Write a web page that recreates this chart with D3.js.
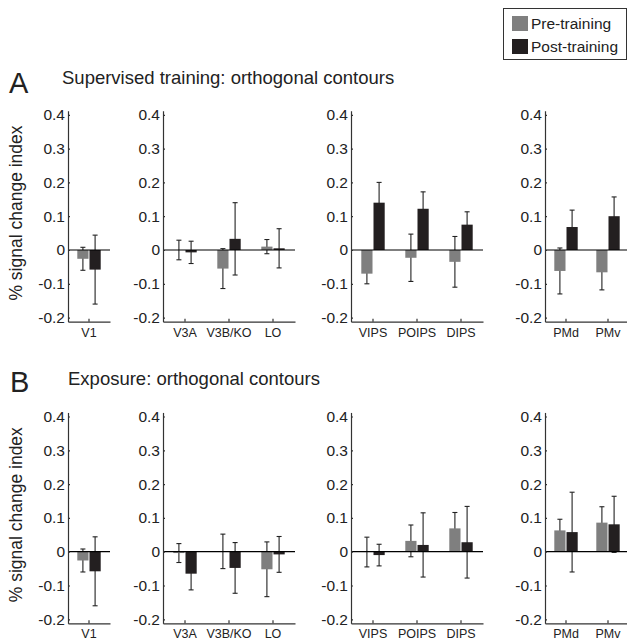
<!DOCTYPE html>
<html>
<head>
<meta charset="utf-8">
<script src="https://cdn.jsdelivr.net/npm/d3@7"></script>
<style>
    body { margin: 0; background: #fff; }
    svg text { font-family: "Liberation Sans", Arial, Helvetica, sans-serif; fill: #222; }
</style>
</head>
<body>
<svg id="chart" width="627" height="644"></svg>
<script>
// regions, split into the four sub-panels
var groups = [["V1"], ["V3A", "V3B/KO", "LO"], ["VIPS", "POIPS", "DIPS"], ["PMd", "PMv"]];
var yTicks = [-0.2, -0.1, 0, 0.1, 0.2, 0.3, 0.4];

// A: supervised training (order: V1, V3A, V3B/KO, LO, VIPS, POIPS, DIPS, PMd, PMv)
var supPre     = [-0.026, 0.0, -0.055, 0.01, -0.07, -0.023, -0.035, -0.062, -0.066];
var supPreErr  = [0.034, 0.029, 0.059, 0.021, 0.03, 0.07, 0.075, 0.068, 0.052];
var supPost    = [-0.058, -0.007, 0.033, 0.005, 0.14, 0.122, 0.075, 0.068, 0.10];
var supPostErr = [0.102, 0.033, 0.107, 0.058, 0.06, 0.05, 0.038, 0.05, 0.057];

// B: exposure
var expPre     = [-0.026, -0.004, 0.001, -0.052, -0.001, 0.032, 0.069, 0.063, 0.086];
var expPreErr  = [0.034, 0.028, 0.051, 0.081, 0.044, 0.047, 0.047, 0.033, 0.047];
var expPost    = [-0.058, -0.065, -0.048, -0.008, -0.01, 0.02, 0.028, 0.058, 0.081];
var expPostErr = [0.102, 0.048, 0.075, 0.053, 0.032, 0.095, 0.106, 0.118, 0.083];

var PRE_COLOR = "#7f7f7f";
var POST_COLOR = "#231f20";
var FONT = '"Liberation Sans", Arial, Helvetica, sans-serif';

var panelX = [[68, 110], [163, 295], [351, 483], [545, 629]];
var pxPerUnit = 338;
var barW = 11.2;

var svg = d3.select("#chart");

function fmt(d) {
    return d === 0 ? "0" : d.toFixed(1);
}

function drawRow(zeroY, pre, preErr, post, postErr) {
    var y = d3.scaleLinear()
        .domain([-0.212, 0.412])
        .range([zeroY + 0.212 * pxPerUnit, zeroY - 0.412 * pxPerUnit]);

    var k = 0;
    groups.forEach(function(g, gi) {
        var x = d3.scaleBand().domain(g).range(panelX[gi]);
        var p = svg.append("g");

        var rows = g.map(function(name) {
            var r = {name: name, pre: pre[k], preErr: preErr[k], post: post[k], postErr: postErr[k]};
            k++;
            return r;
        });
        var bars = [];
        rows.forEach(function(r) {
            var c = x(r.name) + x.bandwidth() / 2;
            bars.push({cx: c - 0.5 - barW / 2, v: r.pre, e: r.preErr, color: PRE_COLOR});
            bars.push({cx: c + 0.5 + barW / 2, v: r.post, e: r.postErr, color: POST_COLOR});
        });

        // error bars first, bars are drawn over them
        var eb = p.selectAll(".err").data(bars).enter().append("g").attr("class", "err")
            .attr("stroke", "#222").attr("stroke-width", 1.1);
        eb.append("line")
            .attr("x1", function(d) { return d.cx; })
            .attr("x2", function(d) { return d.cx; })
            .attr("y1", function(d) { return y(d.v + d.e); })
            .attr("y2", function(d) { return y(d.v - d.e); });
        [1, -1].forEach(function(s) {
            eb.append("line")
                .attr("x1", function(d) { return d.cx - 2.5; })
                .attr("x2", function(d) { return d.cx + 2.5; })
                .attr("y1", function(d) { return y(d.v + s * d.e); })
                .attr("y2", function(d) { return y(d.v + s * d.e); });
        });

        p.selectAll(".bar").data(bars).enter().append("rect").attr("class", "bar")
            .attr("x", function(d) { return d.cx - barW / 2; })
            .attr("width", barW)
            .attr("y", function(d) { return y(Math.max(0, d.v)); })
            .attr("height", function(d) { return Math.abs(y(d.v) - y(0)); })
            .attr("fill", function(d) { return d.color; });

        // zero line
        p.append("line")
            .attr("x1", panelX[gi][0]).attr("x2", panelX[gi][1])
            .attr("y1", y(0)).attr("y2", y(0))
            .attr("stroke", "#000").attr("stroke-width", 1.2);

        var yAxis = p.append("g")
            .attr("transform", "translate(" + panelX[gi][0] + ",0)")
            .call(d3.axisLeft(y).tickValues(yTicks).tickFormat(fmt)
                .tickSizeInner(-2).tickSizeOuter(0).tickPadding(3));
        var xAxis = p.append("g")
            .attr("transform", "translate(0," + y(-0.212) + ")")
            .call(d3.axisBottom(x).tickSizeInner(-3).tickSizeOuter(0).tickPadding(6));

        [yAxis, xAxis].forEach(function(a) {
            a.attr("font-family", FONT);
            a.selectAll("path, line").attr("stroke", "#333").attr("stroke-width", 1.2);
            a.selectAll("text").attr("fill", "#222");
        });
        yAxis.attr("font-size", 15.5);
        xAxis.attr("font-size", 12.5);
    });

    svg.append("text")
        .attr("transform", "translate(22," + (zeroY - 37) + ") rotate(-90)")
        .attr("text-anchor", "middle")
        .attr("font-size", 17.5)
        .text("% signal change index");
}

drawRow(250, supPre, supPreErr, supPost, supPostErr);
drawRow(551.7, expPre, expPreErr, expPost, expPostErr);

// panel letters and titles
svg.append("text").attr("x", 9).attr("y", 93).attr("font-size", 29).text("A");
svg.append("text").attr("x", 62).attr("y", 84).attr("font-size", 18.5)
    .text("Supervised training: orthogonal contours");
svg.append("text").attr("x", 10).attr("y", 392).attr("font-size", 29).text("B");
svg.append("text").attr("x", 68).attr("y", 385).attr("font-size", 18.5)
    .text("Exposure: orthogonal contours");

// legend
var legend = svg.append("g");
legend.append("rect")
    .attr("x", 503.5).attr("y", 8.5).attr("width", 123).attr("height", 51)
    .attr("fill", "#fff").attr("stroke", "#333").attr("stroke-width", 1);
[["Pre-training", PRE_COLOR], ["Post-training", POST_COLOR]].forEach(function(d, i) {
    legend.append("rect")
        .attr("x", 512).attr("y", 16 + i * 23).attr("width", 16).attr("height", 15)
        .attr("fill", d[1]);
    legend.append("text")
        .attr("x", 531).attr("y", 29 + i * 23)
        .attr("font-size", 15.5)
        .text(d[0]);
});
</script>
</body>
</html>
